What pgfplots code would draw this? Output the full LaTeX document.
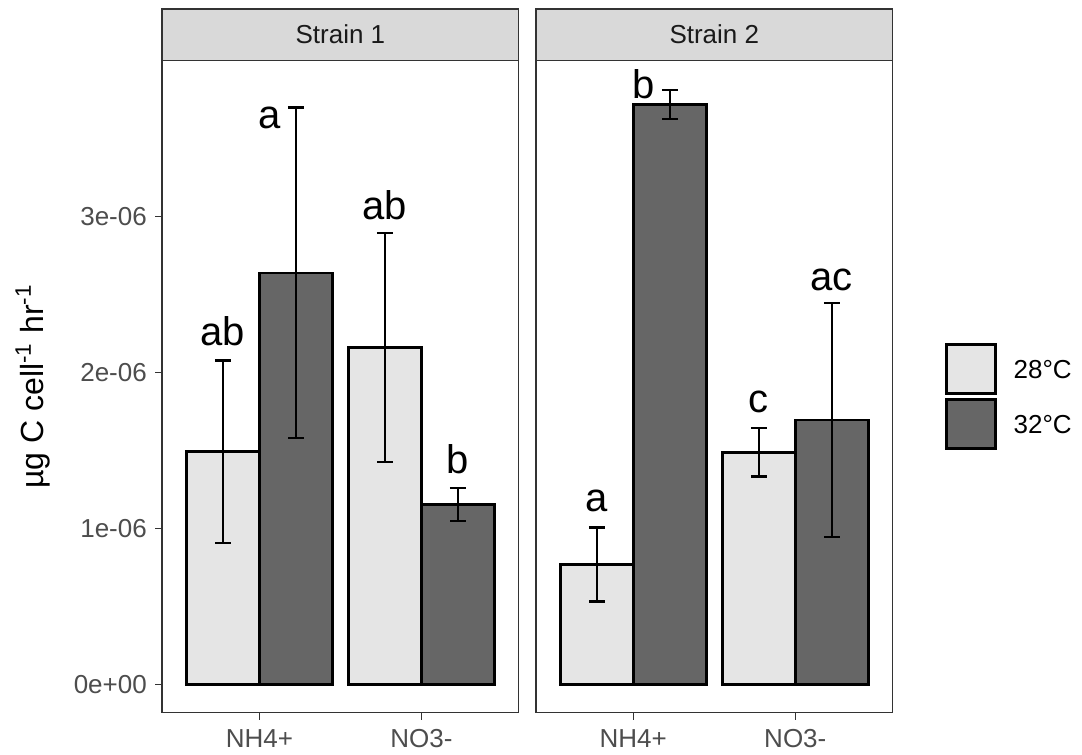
\documentclass[border=0pt]{standalone}
\usepackage{pgfplots}
\pgfplotsset{compat=1.18}
\usepackage{fontspec}
\setmainfont{Liberation Sans}
\definecolor{lightbar}{HTML}{E5E5E5}
\definecolor{darkbar}{HTML}{666666}
\definecolor{framegray}{HTML}{333333}
\definecolor{tickgray}{HTML}{4D4D4D}
\definecolor{stripfill}{HTML}{D9D9D9}
\definecolor{striptext}{HTML}{1A1A1A}

\pgfplotsset{
  facet/.style={
    scale only axis, width=178.2pt, height=326.2pt,
    xmin=0.4, xmax=2.6, ymin=-0.181, ymax=4.0,
    xtick={1,2}, xticklabels={NH4+,NO3-},
    tick pos=left,
    tick align=outside, major tick length=3.5pt,
    minor tick num=0,
    every tick/.style={draw=framegray, line width=0.7pt},
    axis line style={draw=framegray, line width=0.7pt},
    ticklabel style={font=\fontsize{13}{15}\selectfont, text=tickgray},
    xticklabel style={anchor=north, inner sep=0pt, yshift=-4.8pt},
    yticklabel style={anchor=east, inner sep=0pt, xshift=-4pt},
    bar width=0.45,
    clip=false,
  },
  barlight/.style={ybar, bar shift=0pt, fill=lightbar, draw=black, line width=1.3pt,
    error bars/.cd, y dir=both, y explicit,
    error bar style={line width=1.2pt, black},
    error mark options={rotate=90, mark size=4pt, line width=1.2pt, black}},
  bardark/.style={ybar, bar shift=0pt, fill=darkbar, draw=black, line width=1.3pt,
    error bars/.cd, y dir=both, y explicit,
    error bar style={line width=1.2pt, black},
    error mark options={rotate=90, mark size=4pt, line width=1.2pt, black}},
  letters/.style={only marks, mark=none, nodes near coords, point meta=explicit symbolic,
    every node near coord/.style={anchor=base, inner sep=0pt, font=\fontsize{20}{24}\selectfont, text=black}},
}

\begin{document}
\begin{tikzpicture}
\useasboundingbox (-81.1pt,-21.15pt) rectangle (459.9pt,356.35pt);

% ---------- Strain 1 ----------
\begin{axis}[facet, name=ax1, at={(0,0)}, anchor=south west,
  ytick={0,1,2,3}, yticklabels={0e+00,1e-06,2e-06,3e-06},
  ylabel={µg C cell\textsuperscript{-1} hr\textsuperscript{-1}},
  ylabel style={at={(axis description cs:-0.333,0.5)}, anchor=base, font=\fontsize{16}{19}\selectfont, text=black},
]
\addplot[barlight] coordinates {(0.775,1.491) +- (0,0.584) (1.775,2.158) +- (0,0.734)};
\addplot[bardark] coordinates {(1.225,2.638) +- (0,1.060) (2.225,1.154) +- (0,0.105)};
\addplot[letters] coordinates {(0.775,2.170) [ab] (1.061,3.563) [a] (1.775,2.981) [ab] (2.225,1.353) [b]};
\end{axis}

% ---------- Strain 2 ----------
\begin{axis}[facet, name=ax2, at={(186.95pt,0)}, anchor=south west,
  ytick=\empty,
  legend entries={28°C,32°C},
  legend image code/.code={\draw[#1, line width=1.2pt] (0pt,-12.25pt) rectangle (24.5pt,12.25pt);},
  legend style={at={(axis description cs:1.148,0.566)}, anchor=north west, draw=none, fill=none,
    inner sep=0pt, outer sep=0pt, row sep=1.8pt, column sep=8.5pt,
    nodes={inner sep=0pt, text depth=0pt}, font=\fontsize{13}{15}\selectfont, text=black},
  legend cell align=left,
]
\addlegendimage{fill=lightbar, draw=black}
\addlegendimage{fill=darkbar, draw=black}
\addplot[barlight] coordinates {(0.775,0.769) +- (0,0.237) (1.775,1.487) +- (0,0.155)};
\addplot[bardark] coordinates {(1.225,3.718) +- (0,0.093) (2.225,1.694) +- (0,0.750)};
\addplot[letters] coordinates {(0.775,1.106) [a] (1.065,3.756) [b] (1.775,1.741) [c] (2.225,2.523) [ac]};
\end{axis}

% strips
\draw[fill=stripfill, draw=framegray, line width=0.7pt] (ax1.north west) rectangle ([yshift=25.6pt]ax1.north east);
\node[text=striptext, font=\fontsize{13}{15}\selectfont, inner sep=0pt] at ([yshift=12.8pt]ax1.north) {Strain 1};
\draw[fill=stripfill, draw=framegray, line width=0.7pt] (ax2.north west) rectangle ([yshift=25.6pt]ax2.north east);
\node[text=striptext, font=\fontsize{13}{15}\selectfont, inner sep=0pt] at ([yshift=12.8pt]ax2.north) {Strain 2};
\end{tikzpicture}
\end{document}
